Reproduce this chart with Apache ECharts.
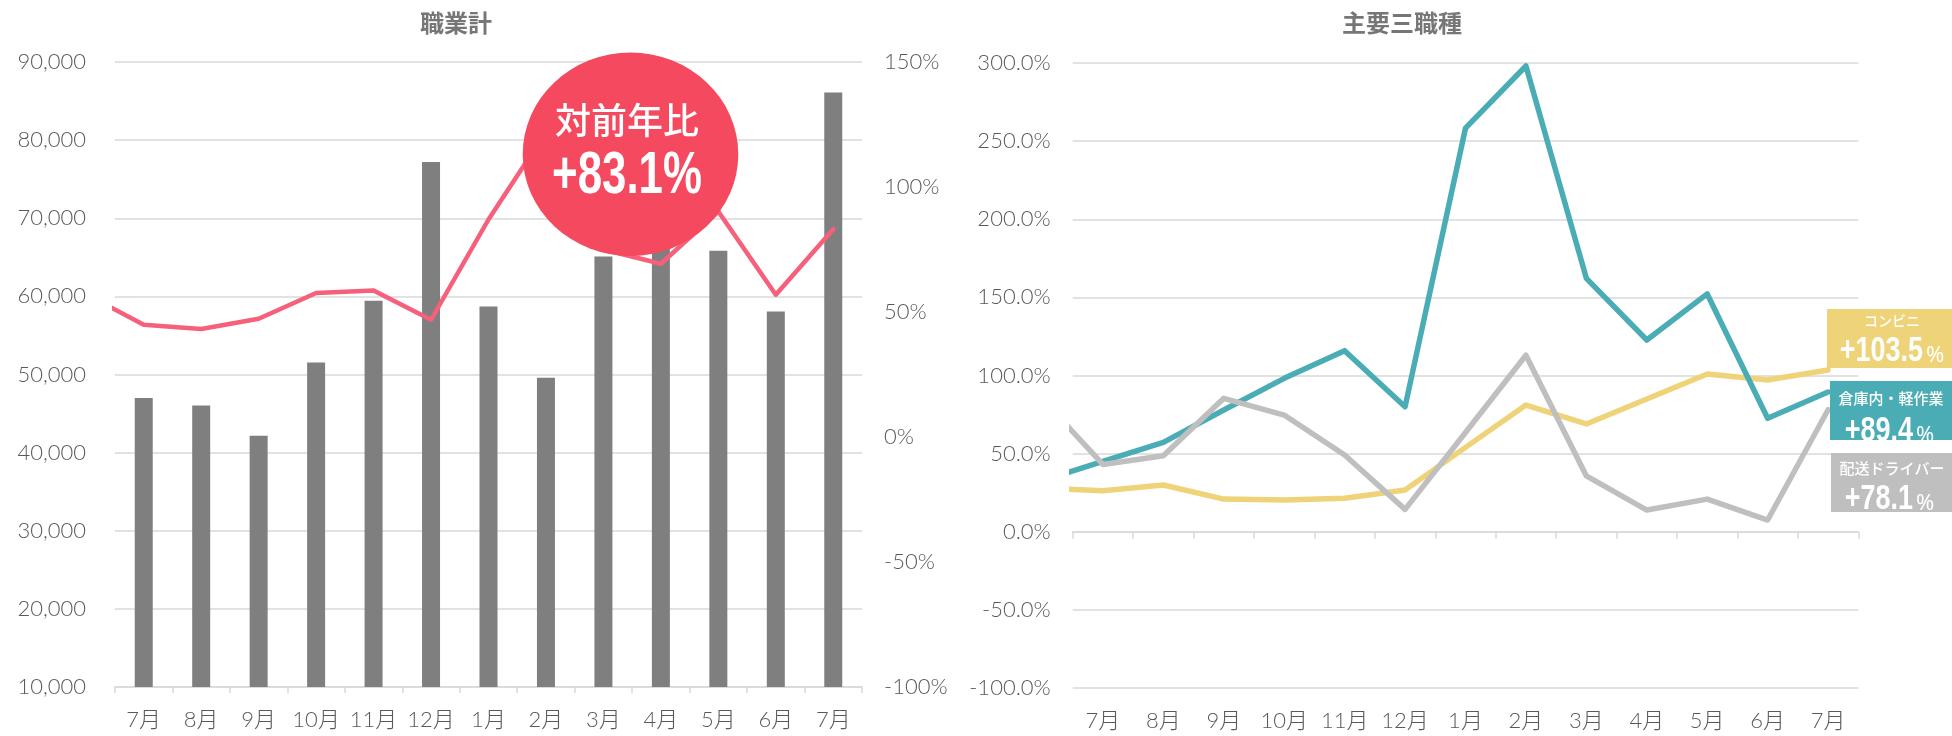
<!DOCTYPE html>
<html>
<head>
<meta charset="utf-8">
<script src="https://cdn.jsdelivr.net/npm/echarts@6/dist/echarts.min.js"></script>
<style>
html,body{margin:0;padding:0;background:#fff;}
#c{width:1952px;height:736px;}
</style>
</head>
<body>
<div id="c"></div>
<script>
// ---- data ----
const months = ['7月','8月','9月','10月','11月','12月','1月','2月','3月','4月','5月','6月','7月'];
const leftTicksMin = 10000, leftTicksMax = 90000, leftTicksStep = 10000;
const yoyTicksMin = -100, yoyTicksMax = 150, yoyTicksStep = 50;
const rightTicksMin = -100, rightTicksMax = 300, rightTicksStep = 50;

// 職業計 (件数)
const jobTotal = [46980, 46030, 42150, 51540, 59440, 77200, 58710, 49580, 65110, 66500, 65840, 58070, 86110];
// 対前年比 (%) ; yoyPrev = the month before the first one (off the left edge)
const yoyPrev = 57.0;
const yoy = [44.9, 43.2, 47.3, 57.6, 58.6, 46.9, 87.0, 122.0, 75.0, 69.3, 90.2, 56.9, 83.1];

// 主要三職種 (%)
const warehousePrev = 32.8;
const warehouse = [45.0, 57.2, 77.9, 98.2, 115.9, 80.0, 258.3, 298.1, 162.2, 122.7, 152.2, 72.6, 89.4];
const driverPrev = 84.9;
const driver = [43.1, 48.7, 85.4, 74.7, 49.1, 14.3, 63.5, 113.0, 35.7, 13.9, 20.9, 7.5, 78.1];
const conveniPrev = 27.9;
const conveni = [26.3, 29.9, 20.9, 20.3, 21.4, 26.7, 54.0, 81.1, 69.0, 85.0, 101.0, 97.1, 103.5];

const titles = ['職業計', '主要三職種'];
const yoyLabel = ['対前年比', '+83.1%'];
const boxNames = ['コンビニ', '倉庫内・軽作業', '配送ドライバー'];
const boxValues = ['+103.5', '+89.4', '+78.1'];

// ---- helpers ----
function withPrev(prev, arr) {
  return [[-1, prev]].concat(arr.map((v, i) => [i, v]));
}
const LABEL_FONT = "Lato, 'Noto Sans CJK JP', sans-serif";
const CJK = "'Noto Sans CJK JP', sans-serif";
const BOLDNUM = "'Liberation Sans', Arial, sans-serif";
const gridLine = { show: true, lineStyle: { color: '#d9d9d9', width: 1.5 } };
const axisLbl = { color: '#595959', fontSize: 22, fontFamily: LABEL_FONT, fontWeight: 300 };

const C_PINK = '#f6607a', C_BUBBLE = '#f5495f', C_TEAL = '#4aadb5', C_GRAY = '#bfbfbf', C_YEL = '#efd379', C_BAR = '#7f7f7f';

const chart = echarts.init(document.getElementById('c'), null, { renderer: 'canvas' });

// box layout: [rectX, rectY, rectW, nameX, nameY, nameSize, numRightX, numY]
const boxLayout = [
  [1827, 309, 125, 1892, 321, 14, 1923, 351],
  [1830, 381, 122, 1891, 398, 15, 1913, 431],
  [1831, 453, 121, 1892, 468, 15, 1913, 499]
];
const boxColors = [C_YEL, C_TEAL, C_GRAY];

const boxGraphics = [];
boxLayout.forEach((b, i) => {
  boxGraphics.push({ type: 'rect', x: b[0], y: b[1], z: 20, shape: { width: b[2], height: 59 }, style: { fill: boxColors[i] } });
  boxGraphics.push({ type: 'text', x: b[3], y: b[4], z: 21,
    style: { text: boxNames[i], fill: '#fff', font: '500 ' + b[5] + 'px ' + CJK, align: 'center', verticalAlign: 'middle' } });
  boxGraphics.push({ type: 'text', x: b[6], y: b[7], scaleX: 0.77, z: 21,
    style: { text: boxValues[i], fill: '#fff', font: 'bold 35px ' + BOLDNUM, align: 'right', verticalAlign: 'middle' } });
  boxGraphics.push({ type: 'text', x: b[6] + 3, y: b[7] + 5, z: 21,
    style: { text: '%', fill: '#fff', font: '22px ' + "'Noto Sans', sans-serif", align: 'left', verticalAlign: 'middle' } });
});

const option = {
  animation: false,
  backgroundColor: '#fff',
  grid: [
    { left: 115, top: 62, width: 747, height: 625, containLabel: false },
    { left: 1072.7, top: 63, width: 785.6, height: 625, containLabel: false }
  ],
  xAxis: [
    { // 0: left chart categories
      type: 'category', gridIndex: 0, data: months, position: 'bottom', boundaryGap: true,
      axisLine: { show: true, onZero: false, lineStyle: { color: '#d9d9d9', width: 1.5 } },
      axisTick: { show: true, length: 6, lineStyle: { color: '#d9d9d9', width: 1.5 } },
      axisLabel: Object.assign({ margin: 22, interval: 0 }, axisLbl)
    },
    { // 1: hidden value axis for left line
      type: 'value', gridIndex: 0, min: -0.5, max: 12.5, show: false, position: 'top'
    },
    { // 2: right chart bottom labels
      type: 'category', gridIndex: 1, data: months, position: 'bottom', boundaryGap: true,
      axisLine: { show: false, onZero: false }, axisTick: { show: false },
      axisLabel: Object.assign({ margin: 22, interval: 0 }, axisLbl)
    },
    { // 3: right chart zero axis line with ticks
      type: 'category', gridIndex: 1, data: months, position: 'bottom', boundaryGap: true,
      axisLine: { show: true, onZero: true, lineStyle: { color: '#d9d9d9', width: 1.5 } },
      axisTick: { show: true, length: 7, lineStyle: { color: '#d9d9d9', width: 1.5 } },
      axisLabel: { show: false }
    },
    { // 4: hidden value axis for right lines
      type: 'value', gridIndex: 1, min: -0.5, max: 12.5, show: false, position: 'top'
    }
  ],
  yAxis: [
    {
      type: 'value', gridIndex: 0, position: 'left', min: leftTicksMin, max: leftTicksMax, interval: leftTicksStep,
      axisLine: { show: false, onZero: false }, axisTick: { show: false },
      splitLine: gridLine,
      axisLabel: Object.assign({ margin: 29, formatter: v => v.toLocaleString('en-US') }, axisLbl)
    },
    {
      type: 'value', gridIndex: 0, position: 'right', min: yoyTicksMin, max: yoyTicksMax, interval: yoyTicksStep,
      axisLine: { show: false, onZero: false }, axisTick: { show: false },
      splitLine: { show: false },
      axisLabel: Object.assign({ margin: 22, formatter: v => v + '%' }, axisLbl)
    },
    {
      type: 'value', gridIndex: 1, position: 'left', min: rightTicksMin, max: rightTicksMax, interval: rightTicksStep,
      axisLine: { show: false, onZero: false }, axisTick: { show: false },
      splitLine: gridLine,
      axisLabel: Object.assign({ margin: 22, formatter: v => v.toFixed(1) + '%' }, axisLbl)
    }
  ],
  series: [
    {
      name: '職業計', type: 'bar', xAxisIndex: 0, yAxisIndex: 0, data: jobTotal,
      barWidth: 18, itemStyle: { color: C_BAR }, z: 2
    },
    {
      name: '対前年比', type: 'line', xAxisIndex: 1, yAxisIndex: 1, data: withPrev(yoyPrev, yoy),
      symbol: 'none', clip: true, lineStyle: { color: C_PINK, width: 4.5, join: 'round', cap: 'round' }, z: 3
    },
    {
      name: 'コンビニ', type: 'line', xAxisIndex: 4, yAxisIndex: 2, data: withPrev(conveniPrev, conveni),
      symbol: 'none', clip: true, lineStyle: { color: C_YEL, width: 5.5, join: 'round', cap: 'round' }, z: 3
    },
    {
      name: '倉庫内・軽作業', type: 'line', xAxisIndex: 4, yAxisIndex: 2, data: withPrev(warehousePrev, warehouse),
      symbol: 'none', clip: true, lineStyle: { color: C_TEAL, width: 5.5, join: 'round', cap: 'round' }, z: 4
    },
    {
      name: '配送ドライバー', type: 'line', xAxisIndex: 4, yAxisIndex: 2, data: withPrev(driverPrev, driver),
      symbol: 'none', clip: true, lineStyle: { color: C_GRAY, width: 5.5, join: 'round', cap: 'round' }, z: 5
    }
  ],
  graphic: [
    { type: 'text', x: 456, y: 23, z: 10,
      style: { text: titles[0], fill: '#767676', font: 'bold 24px ' + CJK, align: 'center', verticalAlign: 'middle' } },
    { type: 'text', x: 1402, y: 23, z: 10,
      style: { text: titles[1], fill: '#767676', font: 'bold 24px ' + CJK, align: 'center', verticalAlign: 'middle' } },
    // bubble
    { type: 'circle', x: 630.5, y: 154.3, scaleX: 1.06, z: 20,
      shape: { cx: 0, cy: 0, r: 101.7 }, style: { fill: C_BUBBLE } },
    { type: 'text', x: 627, y: 120, z: 21,
      style: { text: yoyLabel[0], fill: '#fff', font: '500 36px ' + CJK, align: 'center', verticalAlign: 'middle' } },
    { type: 'text', x: 627, y: 176, scaleX: 0.73, z: 21,
      style: { text: yoyLabel[1], fill: '#fff', font: 'bold 60px ' + BOLDNUM, align: 'center', verticalAlign: 'middle' } }
  ].concat(boxGraphics)
};
chart.setOption(option);
</script>
</body>
</html>
